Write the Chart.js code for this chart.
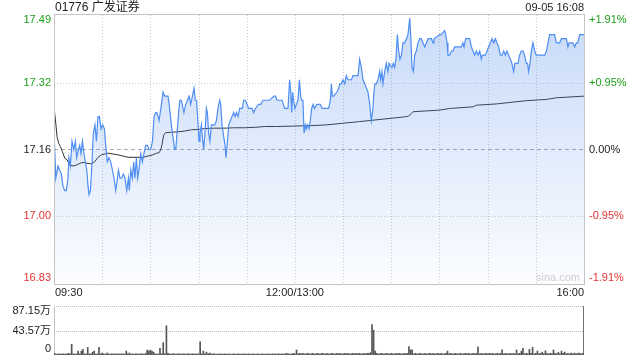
<!DOCTYPE html>
<html lang="zh">
<head>
  <meta charset="UTF-8" />
  <title>01776 广发证券</title>
  <script src="https://cdn.jsdelivr.net/npm/chart.js"></script>
  <style>
    body {
      margin: 0;
      background: #fff;
      font-family: Arial, "Liberation Sans", "Noto Sans CJK SC", sans-serif;
    }
    .wrap {
      position: relative;
      width: 640px;
      height: 360px;
      overflow: hidden;
    }
    .wrap canvas {
      position: absolute;
      left: 0;
      top: 0;
    }
    .title {
      position: absolute;
      left: 55px;
      top: 0;
      font-size: 12px;
      line-height: 15px;
      color: #222;
    }
    .date {
      position: absolute;
      right: 56px;
      top: 0;
      font-size: 11px;
      line-height: 15px;
      color: #222;
    }
  </style>
</head>
<body>
  <div class="wrap">
    <canvas id="priceChart" width="640" height="360"></canvas>
    <canvas id="volChart" width="640" height="360"></canvas>
    <div class="title">01776 广发证券</div>
    <div class="date">09-05 16:08</div>
  </div>

  <script>
    // previous close and the +/- range shown on the axis
    const prevClose = 17.16;
    const pctLevels = [1.91, 0.95, 0, -0.95, -1.91];
    const priceLabels = ['17.49', '17.32', '17.16', '17.00', '16.83'];
    const pctLabels = ['+1.91%', '+0.95%', '0.00%', '-0.95%', '-1.91%'];

    // time axis: minutes since 09:30 (lunch break removed), 330 minutes in total
    const timeLabels = ['09:30', '12:00/13:00', '16:00'];
    const timeLabelMinutes = [0, 150, 330];
    const gridMinutes = [30, 60, 90, 120, 150, 180, 210, 240, 270, 300];

    // price line
    const priceMinutes = [
      0, 1.1, 2.5, 3.5, 4.6, 5.6, 6.7, 7.7, 8.7, 9.3,
      10.2, 11.2, 12.3, 13.3, 14.1, 15.2, 16.0, 16.8, 17.7, 18.7,
      19.5, 20.4, 21.2, 21.8, 22.7, 23.7, 24.5, 25.5, 26.4, 27.4,
      28.3, 29.3, 30.3, 31.4, 32.2, 33.2, 34.2, 35.3, 36.4, 37.4,
      38.4, 39.2, 40.1, 41.1, 42.1, 43.2, 44.2, 45.3, 46.3, 46.9,
      47.8, 48.8, 49.6, 50.4, 51.3, 52.1, 52.9, 54.0, 55.0, 56.0,
      57.1, 58.2, 59.1, 60.2, 61.3, 62.3, 63.3, 64.1, 65.4, 66.9,
      67.9, 68.9, 70.0, 71.0, 72.0, 73.1, 74.1, 75.1, 75.8, 76.6,
      77.6, 78.3, 79.3, 80.3, 80.9, 82.0, 83.1, 84.1, 85.1, 86.2,
      87.2, 88.0, 88.8, 89.7, 90.3, 90.9, 91.8, 92.4, 93.2, 94.0,
      94.9, 95.5, 96.3, 97.1, 98.0, 100.1, 101.1, 102.1, 103.2, 103.8,
      104.6, 105.7, 106.5, 107.1, 108.0, 108.8, 109.8, 110.8, 111.9, 112.7,
      113.6, 114.6, 115.6, 116.7, 117.3, 118.1, 119.2, 120.2, 121.2, 123.3,
      124.3, 125.4, 127.4, 128.7, 130.1, 131.2, 134.3, 137.0, 138.0, 138.8,
      139.9, 141.0, 142.0, 142.8, 143.6, 145.7, 146.7, 147.4, 148.0, 148.6,
      149.2, 150.0, 150.9, 151.9, 152.8, 153.6, 154.2, 155.0, 155.7, 156.5,
      157.1, 158.0, 158.8, 159.6, 160.4, 161.3, 162.1, 163.7, 165.9, 166.9,
      170.0, 171.0, 172.1, 172.7, 173.3, 174.1, 176.2, 177.3, 177.9, 178.9,
      179.9, 181.0, 182.0, 183.0, 184.1, 185.2, 186.2, 187.2, 189.3, 190.3,
      191.4, 192.4, 193.4, 194.5, 195.5, 196.6, 197.6, 198.6, 199.0, 199.7,
      200.7, 201.7, 202.8, 203.4, 204.2, 204.8, 205.9, 206.9, 207.9, 208.6,
      210.4, 211.3, 212.1, 212.9, 213.8, 214.6, 215.4, 216.3, 217.3, 218.3,
      219.4, 220.4, 221.5, 222.1, 222.9, 223.8, 224.6, 225.6, 226.6, 227.7,
      228.7, 229.7, 230.8, 231.9, 232.9, 235.0, 236.0, 236.6, 240.1, 241.2,
      243.2, 243.9, 244.7, 245.3, 246.4, 247.4, 248.4, 249.5, 253.6, 254.6,
      255.3, 256.3, 258.8, 259.9, 260.9, 261.9, 263.0, 264.0, 265.1, 266.1,
      266.7, 267.5, 268.6, 269.6, 270.6, 271.7, 272.7, 273.8, 274.8, 275.8,
      276.9, 277.9, 278.9, 280.0, 281.0, 282.0, 283.1, 284.2, 285.1, 286.2,
      287.0, 287.9, 288.9, 289.9, 291.0, 292.0, 293.0, 294.1, 294.9, 295.5,
      296.4, 297.2, 298.2, 299.3, 300.3, 301.3, 305.5, 306.6, 307.6, 308.6,
      309.7, 310.7, 311.7, 312.8, 314.8, 315.9, 319.0, 320.0, 320.7, 322.1,
      323.1, 324.2, 325.2, 326.2, 327.3, 330.0
    ];
    const prices = [
      17.21, 17.09, 17.12, 17.11, 17.10, 17.07, 17.06, 17.06, 17.09, 17.14,
      17.12, 17.18, 17.16, 17.18, 17.14, 17.16, 17.17, 17.15, 17.18, 17.15,
      17.13, 17.11, 17.07, 17.05, 17.06, 17.13, 17.20, 17.22, 17.18, 17.24,
      17.24, 17.21, 17.22, 17.21, 17.17, 17.13, 17.14, 17.13, 17.11, 17.09,
      17.06, 17.08, 17.11, 17.09, 17.09, 17.10, 17.09, 17.06, 17.09, 17.06,
      17.11, 17.09, 17.13, 17.09, 17.14, 17.09, 17.11, 17.15, 17.13, 17.15,
      17.17, 17.17, 17.16, 17.16, 17.18, 17.24, 17.25, 17.25, 17.23, 17.27,
      17.30, 17.29, 17.29, 17.29, 17.26, 17.22, 17.19, 17.16, 17.16, 17.20,
      17.25, 17.28, 17.28, 17.26, 17.25, 17.27, 17.28, 17.29, 17.27, 17.29,
      17.31, 17.28, 17.28, 17.22, 17.18, 17.20, 17.22, 17.19, 17.16, 17.20,
      17.26, 17.25, 17.20, 17.18, 17.22, 17.22, 17.23, 17.26, 17.28, 17.27,
      17.22, 17.19, 17.17, 17.14, 17.18, 17.22, 17.23, 17.24, 17.25, 17.24,
      17.25, 17.24, 17.26, 17.26, 17.26, 17.28, 17.28, 17.27, 17.26, 17.26,
      17.25, 17.26, 17.27, 17.27, 17.28, 17.28, 17.28, 17.29, 17.29, 17.28,
      17.28, 17.28, 17.28, 17.27, 17.26, 17.26, 17.33, 17.30, 17.25, 17.30,
      17.28, 17.26, 17.27, 17.28, 17.33, 17.29, 17.28, 17.28, 17.20, 17.22,
      17.21, 17.22, 17.21, 17.23, 17.26, 17.27, 17.26, 17.27, 17.27, 17.26,
      17.26, 17.26, 17.28, 17.32, 17.29, 17.29, 17.30, 17.31, 17.32, 17.32,
      17.33, 17.32, 17.34, 17.33, 17.33, 17.33, 17.34, 17.34, 17.34, 17.38,
      17.36, 17.33, 17.32, 17.31, 17.30, 17.27, 17.23, 17.26, 17.29, 17.32,
      17.32, 17.33, 17.35, 17.33, 17.35, 17.32, 17.35, 17.37, 17.35, 17.37,
      17.36, 17.37, 17.36, 17.38, 17.44, 17.40, 17.38, 17.39, 17.42, 17.42,
      17.43, 17.44, 17.48, 17.44, 17.36, 17.35, 17.39, 17.40, 17.42, 17.43,
      17.43, 17.42, 17.41, 17.42, 17.43, 17.43, 17.42, 17.43, 17.44, 17.44,
      17.45, 17.44, 17.42, 17.39, 17.39, 17.40, 17.40, 17.41, 17.41, 17.42,
      17.41, 17.43, 17.43, 17.41, 17.40, 17.39, 17.40, 17.39, 17.40, 17.38,
      17.39, 17.39, 17.39, 17.40, 17.41, 17.42, 17.43, 17.42, 17.43, 17.42,
      17.41, 17.39, 17.39, 17.40, 17.39, 17.40, 17.39, 17.38, 17.37, 17.35,
      17.37, 17.37, 17.37, 17.39, 17.40, 17.40, 17.39, 17.37, 17.37, 17.35,
      17.37, 17.40, 17.42, 17.40, 17.39, 17.39, 17.39, 17.40, 17.42, 17.44,
      17.44, 17.44, 17.44, 17.42, 17.42, 17.43, 17.43, 17.41, 17.42, 17.42,
      17.42, 17.41, 17.42, 17.42, 17.44, 17.44
    ];

    // average price line
    const avgMinutes = [
      0, 1.1, 1.9, 2.9, 4.0, 5.2, 6.7, 8.1, 9.8, 11.8,
      13.9, 17.1, 19.1, 21.2, 23.3, 25.3, 27.4, 29.5, 31.6, 33.6,
      36.7, 39.8, 43.0, 46.1, 52.3, 55.4, 58.5, 61.6, 63.8, 65.4,
      66.4, 67.2, 68.3, 69.4, 73.1, 77.2, 81.4, 85.5, 89.7, 93.8,
      100.1, 106.3, 112.5, 118.7, 125.0, 131.2, 138.5, 148.8, 159.2, 169.6,
      179.9, 190.3, 197.6, 219.4, 221.0, 223.5, 240.1, 246.4, 260.9, 263.0,
      275.4, 294.1, 306.6, 312.8, 330
    ];
    const avgPrices = [
      17.263, 17.224, 17.191, 17.175, 17.167, 17.155, 17.139, 17.135, 17.122, 17.120,
      17.122, 17.128, 17.128, 17.126, 17.125, 17.130, 17.141, 17.147, 17.149, 17.151,
      17.149, 17.147, 17.144, 17.141, 17.141, 17.141, 17.144, 17.147, 17.151, 17.152,
      17.159, 17.171, 17.195, 17.201, 17.202, 17.203, 17.205, 17.208, 17.209, 17.211,
      17.212, 17.212, 17.213, 17.213, 17.214, 17.216, 17.216, 17.217, 17.218, 17.220,
      17.224, 17.228, 17.231, 17.240, 17.242, 17.252, 17.256, 17.260, 17.264, 17.268,
      17.271, 17.279, 17.282, 17.286, 17.290
    ];

    // volume per minute, in 万 shares (index = minute)
    const volumes = [
      3, 2, 1.5, 2, 1.5, 2, 2, 1.5, 2, 3, 2, 19, 2, 1.5, 2, 7, 2, 7, 10, 2, 1.5, 13.5, 2, 2, 5, 7, 1.5, 2, 13.5, 2,
      3.5, 2, 1.5, 3.5, 2, 1.5, 2, 2, 1.5, 2, 2, 1.5, 2, 2, 1.5, 7, 2, 3.5, 1.5, 2, 1.5, 2, 2, 1.5, 2, 2, 1.5, 2.5, 8.8, 7,
      8.8, 7, 5, 2, 1.5, 2, 12, 2, 22, 2, 52, 3, 2, 1.5, 2, 2, 1.5, 2, 2, 1.5, 2, 2, 1.5, 2, 2, 1.5, 2, 2, 1.5, 2,
      2, 23.5, 2, 7, 2, 5, 2, 3.5, 1.5, 2, 2, 1.5, 1.5, 2, 1.5, 1.5, 2, 1.5, 1.5, 2, 1.5, 1.5, 2, 1.5, 1.5, 2, 1.5, 1.5, 2, 1.5,
      1.5, 2, 1.5, 1.5, 2, 1.5, 1.5, 2, 1.5, 1.5, 2, 1.5, 1.5, 2, 1.5, 1.5, 2, 1.5, 2, 1.5, 2, 1.5, 2, 1.5, 2, 3, 2, 1.5, 2, 3,
      2, 9, 2, 3, 2, 3, 2, 2, 3, 2, 2, 3, 2, 2, 3, 2, 2, 3, 2, 2, 3, 2, 2, 3, 2, 2, 3, 2, 3, 2,
      2, 3, 2, 3, 2, 2, 3, 2, 3, 2, 3, 2, 2, 3, 2, 3, 3, 4, 54, 44, 7, 3, 2, 2, 3, 2, 2, 3, 2, 2,
      3, 2, 2, 3, 2, 3, 2, 2, 3, 2, 3, 15, 9, 9, 2, 3, 2, 2, 3, 2, 2, 3, 2, 2, 3, 2, 3, 2, 2, 3,
      2, 3, 2, 2, 3, 7, 2, 3, 2, 2, 3, 2, 2, 3, 2, 2, 3, 2, 3, 2, 2, 3, 2, 3, 14, 2, 3, 2, 2, 3,
      2, 3, 2, 3, 2, 2, 3, 2, 3, 9, 2, 3, 2, 2, 3, 2, 3, 2, 9, 2, 3, 7, 12, 2, 3, 2, 10, 3, 13.5, 2,
      3, 7, 2, 3, 5, 2, 7.5, 3, 2, 3, 2, 9, 3, 2, 5, 2, 7, 3, 5, 2, 3, 2, 3.5, 2, 3.5, 2, 3, 3.5, 2, 3,
      87.15
    ];
    const volMax = 87.15;
    const volLevels = [87.15, 43.575, 0];
    const volLabels = ['87.15万', '43.57万', '0'];

    const FONT = 'Arial, "Liberation Sans", "Noto Sans CJK SC", sans-serif';
    const GREEN = '#1a9f1a';
    const RED = '#e53333';
    const DARK = '#222';

    function levelColor(pct) {
      if (pct > 0) return GREEN;
      if (pct < 0) return RED;
      return DARK;
    }

    function hLine(ctx, a, py) {
      ctx.beginPath();
      ctx.moveTo(a.left, py);
      ctx.lineTo(a.right, py);
      ctx.stroke();
    }

    // grid, frame and axis texts of the price panel
    const priceDecor = {
      id: 'priceDecor',
      beforeDatasetsDraw(chart) {
        const { ctx, chartArea: a, scales: { x, y } } = chart;
        ctx.save();
        ctx.lineWidth = 1;
        ctx.strokeStyle = '#cccccc';
        ctx.setLineDash([1, 2]);
        gridMinutes.forEach(m => {
          const px = Math.round(x.getPixelForValue(m)) + 0.5;
          ctx.beginPath();
          ctx.moveTo(px, a.top);
          ctx.lineTo(px, a.bottom);
          ctx.stroke();
        });
        pctLevels.forEach(pct => {
          if (Math.abs(pct) > 1.5) return;
          const py = Math.round(y.getPixelForValue(prevClose * (1 + pct / 100))) + 0.5;
          if (pct === 0) {
            ctx.strokeStyle = '#aaaaaa';
            ctx.setLineDash([4, 3]);
          } else {
            ctx.strokeStyle = '#cccccc';
            ctx.setLineDash([1, 2]);
          }
          hLine(ctx, a, py);
        });
        ctx.restore();
      },
      afterDatasetsDraw(chart) {
        const { ctx, chartArea: a } = chart;
        ctx.save();
        ctx.strokeStyle = '#c4c4c4';
        ctx.lineWidth = 1;
        ctx.strokeRect(a.left + 0.5, a.top - 0.5, a.right - a.left, a.bottom - a.top + 1);
        ctx.restore();
      },
      afterDraw(chart) {
        const { ctx, chartArea: a, scales: { x, y } } = chart;
        ctx.save();
        ctx.font = '11px ' + FONT;
        ctx.textBaseline = 'middle';
        pctLevels.forEach((pct, i) => {
          let py = y.getPixelForValue(prevClose * (1 + pct / 100));
          if (i === 0) py += 5;
          if (i === pctLevels.length - 1) py -= 6;
          ctx.fillStyle = levelColor(pct);
          ctx.textAlign = 'right';
          ctx.fillText(priceLabels[i], a.left - 3, py);
          ctx.textAlign = 'left';
          ctx.fillText(pctLabels[i], a.right + 5, py);
        });

        ctx.fillStyle = DARK;
        timeLabels.forEach((t, i) => {
          const px = x.getPixelForValue(timeLabelMinutes[i]);
          ctx.textAlign = i === 0 ? 'left' : (i === timeLabels.length - 1 ? 'right' : 'center');
          ctx.fillText(t, i === 0 ? px + 1 : px, a.bottom + 9);
        });

        ctx.fillStyle = '#cfcfcf';
        ctx.textAlign = 'right';
        ctx.fillText('sina.com', a.right - 4, a.bottom - 6);
        ctx.restore();
      }
    };

    // grid, frame and axis texts of the volume panel
    const volDecor = {
      id: 'volDecor',
      beforeDatasetsDraw(chart) {
        const { ctx, chartArea: a, scales: { y } } = chart;
        ctx.save();
        ctx.lineWidth = 1;
        ctx.strokeStyle = '#bbbbbb';
        ctx.setLineDash([1, 1]);
        volLevels.forEach(v => {
          if (v === 0) return;
          hLine(ctx, a, Math.round(y.getPixelForValue(v)) + 0.5);
        });
        ctx.setLineDash([]);
        ctx.strokeStyle = '#c4c4c4';
        ctx.beginPath();
        ctx.moveTo(a.left + 0.5, a.top);
        ctx.lineTo(a.left + 0.5, a.bottom);
        ctx.stroke();
        ctx.restore();
      },
      afterDraw(chart) {
        const { ctx, chartArea: a, scales: { y } } = chart;
        ctx.save();
        ctx.font = '11px ' + FONT;
        ctx.textBaseline = 'middle';
        ctx.textAlign = 'right';
        ctx.fillStyle = DARK;
        volLevels.forEach((v, i) => {
          let py = y.getPixelForValue(v);
          if (i === 0) py += 5;
          if (i === volLevels.length - 1) py -= 6;
          ctx.fillText(volLabels[i], a.left - 3, py);
        });
        ctx.restore();
      }
    };

    function fillGradient(context) {
      const { ctx, chartArea } = context.chart;
      if (!chartArea) return 'rgba(80,140,235,0.15)';
      const g = ctx.createLinearGradient(0, chartArea.top, 0, chartArea.bottom);
      g.addColorStop(0, 'rgba(80,140,235,0.32)');
      g.addColorStop(1, 'rgba(80,140,235,0.02)');
      return g;
    }

    const yMin = prevClose * (1 - pctLevels[0] / 100);
    const yMax = prevClose * (1 + pctLevels[0] / 100);

    new Chart(document.getElementById('priceChart'), {
      type: 'line',
      data: {
        datasets: [
          {
            label: '价格',
            data: priceMinutes.map((m, i) => ({ x: m, y: prices[i] })),
            borderColor: '#4f8ef2',
            borderWidth: 1.2,
            backgroundColor: fillGradient,
            fill: 'start',
            pointRadius: 0,
            tension: 0
          },
          {
            label: '均价',
            data: avgMinutes.map((m, i) => ({ x: m, y: avgPrices[i] })),
            borderColor: '#333333',
            borderWidth: 1,
            fill: false,
            pointRadius: 0,
            tension: 0
          }
        ]
      },
      options: {
        responsive: false,
        animation: false,
        events: [],
        layout: { padding: { left: 54, right: 56, top: 15, bottom: 76 } },
        plugins: {
          legend: { display: false },
          tooltip: { enabled: false }
        },
        scales: {
          x: { type: 'linear', min: 0, max: 330, offset: false, display: false },
          y: { min: yMin, max: yMax, display: false }
        }
      },
      plugins: [priceDecor]
    });

    new Chart(document.getElementById('volChart'), {
      type: 'bar',
      data: {
        datasets: [{
          label: '成交量',
          data: volumes.map((v, i) => ({ x: i, y: v })),
          backgroundColor: '#555555',
          borderWidth: 0,
          barThickness: 1
        }]
      },
      options: {
        responsive: false,
        animation: false,
        events: [],
        layout: { padding: { left: 54, right: 56, top: 306, bottom: 5 } },
        plugins: {
          legend: { display: false },
          tooltip: { enabled: false }
        },
        scales: {
          x: { type: 'linear', min: 0, max: 330, offset: false, display: false },
          y: { min: 0, max: volMax, display: false }
        }
      },
      plugins: [volDecor]
    });
  </script>
</body>
</html>
